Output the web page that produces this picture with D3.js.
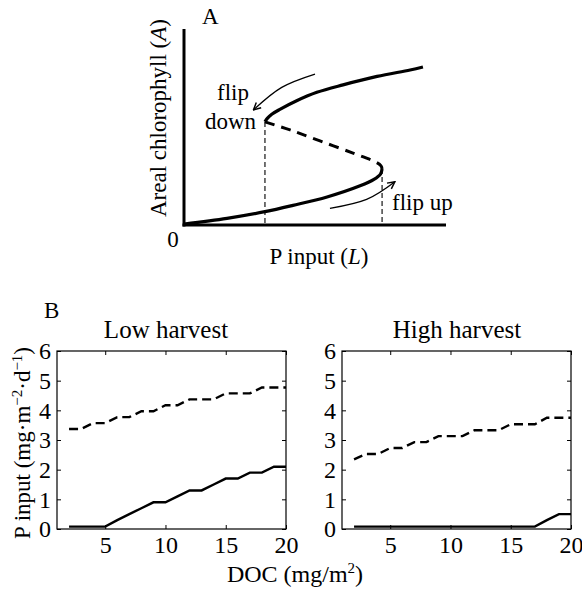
<!DOCTYPE html>
<html><head><meta charset="utf-8">
<script src="https://cdn.jsdelivr.net/npm/d3@7"></script>
<style>
body{margin:0;background:#fff;}
svg{display:block;font-family:"Liberation Serif","Times New Roman",serif;}
</style></head>
<body><svg id="c" width="582" height="589"></svg>
<script>
// ---------- Panel A data (P input L, areal chlorophyll A), schematic units ----------
const upperBranch = [[3.09,5.26],[3.18,5.44],[3.35,5.65],[3.66,5.90],[4.30,6.34],[5.07,6.77],[6.07,7.15],[7.37,7.58],[8.63,7.91],[9.12,8.06]];
const middleBranch = [[3.09,5.26],[4.05,4.85],[5.19,4.29],[6.45,3.67],[7.29,3.23],[7.52,3.02],[7.56,2.86]];
const lowerBranch = [[0,0.05],[1.64,0.34],[3.09,0.68],[4.16,1.0],[5.46,1.43],[6.72,2.0],[7.25,2.33],[7.50,2.6],[7.56,2.86]];
const foldPoints = [[3.09,5.26],[7.56,2.86]];
const flipDownArrow = [[5.0,7.70],[3.73,7.02],[2.65,5.87]];
const flipUpArrow = [[5.57,0.85],[6.97,1.31],[8.05,2.21]];

// ---------- Panel B data ----------
const doc = [2,3,4,5,6,7,8,9,10,11,12,13,14,15,16,17,18,19,20];
const lowDashed = [3.37,3.37,3.57,3.57,3.77,3.77,3.97,3.97,4.17,4.17,4.37,4.37,4.37,4.57,4.57,4.57,4.77,4.77,4.77];
const lowSolid  = [0.08,0.08,0.08,0.08,0.3,0.5,0.7,0.9,0.9,1.1,1.3,1.3,1.5,1.7,1.7,1.9,1.9,2.1,2.1];
const highDashed = [2.35,2.53,2.53,2.73,2.73,2.93,2.93,3.13,3.13,3.13,3.33,3.33,3.33,3.53,3.53,3.53,3.75,3.75,3.75];
const highSolid  = [0.08,0.08,0.08,0.08,0.08,0.08,0.08,0.08,0.08,0.08,0.08,0.08,0.08,0.08,0.08,0.08,0.3,0.5,0.5];
const xTicks = [5,10,15,20];
const yTicks = [0,1,2,3,4,5,6];
const panelTitles = ["Low harvest","High harvest"];

const svg = d3.select("#c");
const FS = 23;

// ---------------- Panel A ----------------
const xA = d3.scaleLinear().domain([0,10]).range([184,446]);
const yA = d3.scaleLinear().domain([0,10]).range([225,29]);
const lineA = d3.line().x(d=>xA(d[0])).y(d=>yA(d[1])).curve(d3.curveCatmullRom.alpha(0.5));

svg.append("defs").append("marker")
  .attr("id","ah").attr("viewBox","0 0 10 10").attr("refX",9).attr("refY",5)
  .attr("markerWidth",9).attr("markerHeight",9).attr("orient","auto").attr("markerUnits","userSpaceOnUse")
  .append("path").attr("d","M1,1 L9,5 L1,9").attr("fill","none").attr("stroke","#000").attr("stroke-width",1.6);

const gA = svg.append("g");
gA.selectAll(".drop").data(foldPoints).join("line")
  .attr("x1",d=>xA(d[0])).attr("x2",d=>xA(d[0]))
  .attr("y1",d=>yA(d[1])).attr("y2",yA(0))
  .attr("stroke","#000").attr("stroke-width",1.1).attr("stroke-dasharray","5,3");
gA.append("path").attr("d",lineA(upperBranch)).attr("fill","none").attr("stroke","#000").attr("stroke-width",3.2);
gA.append("path").attr("d",lineA(lowerBranch)).attr("fill","none").attr("stroke","#000").attr("stroke-width",3.2);
gA.append("path").attr("d",lineA(middleBranch)).attr("fill","none").attr("stroke","#000").attr("stroke-width",3).attr("stroke-dasharray","10,7");
gA.append("line").attr("x1",xA(0)).attr("x2",xA(0)).attr("y1",yA(10)).attr("y2",yA(0)+1.5).attr("stroke","#000").attr("stroke-width",3);
gA.append("line").attr("x1",xA(0)-1.5).attr("x2",xA(10)).attr("y1",yA(0)).attr("y2",yA(0)).attr("stroke","#000").attr("stroke-width",3);
const arrowLine = d3.line().x(d=>xA(d[0])).y(d=>yA(d[1])).curve(d3.curveNatural);
[flipDownArrow, flipUpArrow].forEach(a=>{
  gA.append("path").attr("d",arrowLine(a)).attr("fill","none").attr("stroke","#000").attr("stroke-width",1.3).attr("marker-end","url(#ah)");
});
gA.append("text").attr("x",202).attr("y",24).attr("font-size",FS).text("A");
gA.append("text").attr("x",173).attr("y",247).attr("text-anchor","middle").attr("font-size",FS).text("0");
gA.append("text").attr("x",217).attr("y",100).attr("font-size",FS).text("flip");
gA.append("text").attr("x",205).attr("y",129).attr("font-size",FS).text("down");
gA.append("text").attr("x",392).attr("y",210).attr("font-size",FS).text("flip up");
const xl = gA.append("text").attr("x",319).attr("y",264).attr("text-anchor","middle").attr("font-size",FS);
xl.append("tspan").text("P input (");
xl.append("tspan").attr("font-style","italic").text("L");
xl.append("tspan").text(")");
const yl = gA.append("text").attr("transform","translate(166,118) rotate(-90)").attr("text-anchor","middle").attr("font-size",FS);
yl.append("tspan").text("Areal chlorophyll (");
yl.append("tspan").attr("font-style","italic").text("A");
yl.append("tspan").text(")");

// ---------------- Panel B ----------------
const yB = d3.scaleLinear().domain([0,6]).range([529,351]);
const panels = [
  {left:57, right:286, dashed:lowDashed, solid:lowSolid, title:panelTitles[0], tx:166},
  {left:342, right:571, dashed:highDashed, solid:highSolid, title:panelTitles[1], tx:457}
];
panels.forEach(p=>{
  const x = d3.scaleLinear().domain([1,20]).range([p.left,p.right]);
  const g = svg.append("g");
  const ln = d3.line().x(d=>x(d[0])).y(d=>yB(d[1]));
  g.append("path").attr("d",ln(doc.map((v,i)=>[v,p.solid[i]]))).attr("fill","none").attr("stroke","#000").attr("stroke-width",2.4);
  g.append("path").attr("d",ln(doc.map((v,i)=>[v,p.dashed[i]]))).attr("fill","none").attr("stroke","#000").attr("stroke-width",2.4).attr("stroke-dasharray","9,5");
  g.append("rect").attr("x",p.left).attr("y",yB(6)).attr("width",p.right-p.left).attr("height",yB(0)-yB(6))
    .attr("fill","none").attr("stroke","#000").attr("stroke-width",1.2);
  const fmt = d3.format("d");
  const ab = g.append("g").attr("transform",`translate(0,${yB(0)})`)
    .call(d3.axisBottom(x).tickValues(xTicks).tickSize(-4).tickPadding(7).tickFormat(fmt));
  const at = g.append("g").attr("transform",`translate(0,${yB(6)})`)
    .call(d3.axisTop(x).tickValues(xTicks).tickSize(-4).tickFormat(""));
  const al = g.append("g").attr("transform",`translate(${p.left},0)`)
    .call(d3.axisLeft(yB).tickValues(yTicks).tickSize(-4).tickPadding(6).tickFormat(fmt));
  const ar = g.append("g").attr("transform",`translate(${p.right},0)`)
    .call(d3.axisRight(yB).tickValues(yTicks).tickSize(-4).tickFormat(""));
  [ab,at,al,ar].forEach(a=>{
    a.select(".domain").remove();
    a.attr("font-family",null).attr("font-size",null);
    a.selectAll("line").attr("stroke","#000").attr("stroke-width",1);
    a.selectAll("text").attr("fill","#000").attr("font-size",24);
  });
  g.append("text").attr("x",p.tx).attr("y",338).attr("text-anchor","middle").attr("font-size",25).text(p.title);
});
svg.append("text").attr("x",44).attr("y",318).attr("font-size",FS).text("B");
const by = svg.append("text").attr("transform","translate(30,443) rotate(-90)").attr("text-anchor","middle").attr("font-size",FS);
by.append("tspan").text("P input (mg·m");
by.append("tspan").attr("dy",-8).attr("font-size",15).text("−2");
by.append("tspan").attr("dy",8).text("·d");
by.append("tspan").attr("dy",-8).attr("font-size",15).text("−1");
by.append("tspan").attr("dy",8).text(")");
const bx = svg.append("text").attr("x",295).attr("y",582).attr("text-anchor","middle").attr("font-size",24);
bx.append("tspan").text("DOC (mg/m");
bx.append("tspan").attr("dy",-9).attr("font-size",15).text("2");
bx.append("tspan").attr("dy",9).text(")");
</script></body></html>
